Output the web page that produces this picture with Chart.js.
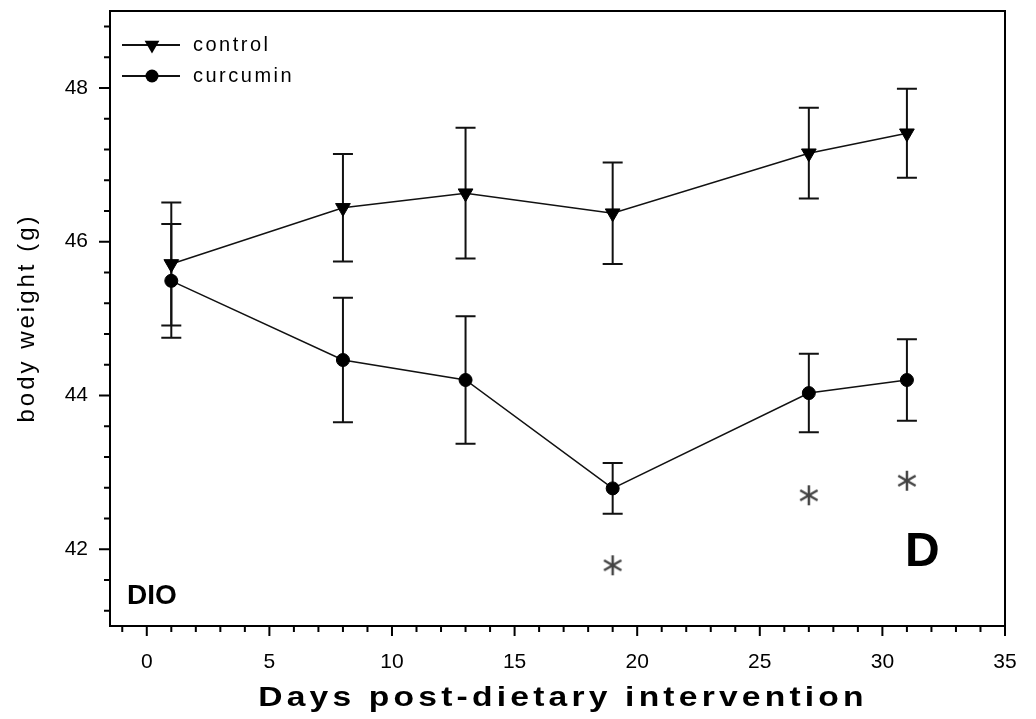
<!DOCTYPE html>
<html>
<head>
<meta charset="utf-8">
<script src="https://cdn.jsdelivr.net/npm/chart.js@4"></script>
<style>
  body { margin: 0; background: #fff; }
  canvas { display: block; }
</style>
</head>
<body>
<canvas id="myChart" width="1036" height="719"></canvas>
<script>
const days = [1, 8, 13, 19, 27, 31];
const controlMean = [45.71, 46.44, 46.63, 46.37, 47.15, 47.41];
const controlErr = [0.80, 0.70, 0.85, 0.66, 0.59, 0.58];
const curcuminMean = [45.49, 44.46, 44.20, 42.79, 44.03, 44.20];
const curcuminErr = [0.74, 0.81, 0.83, 0.33, 0.51, 0.53];
const starDays = [19, 27, 31];
const starY = [41.79, 42.70, 42.89];
const xTickLabels = [0, 5, 10, 15, 20, 25, 30, 35];
const yTickLabels = [42, 44, 46, 48];

// asterisk marker (6 arms)
const star = document.createElement('canvas');
star.width = 26; star.height = 26;
(function () {
    const c = star.getContext('2d');
    c.strokeStyle = '#444';
    c.lineWidth = 2.5;
    [90, 30, 150].forEach(function (a) {
        const r = a * Math.PI / 180;
        c.beginPath();
        c.moveTo(13 - Math.cos(r) * 10, 13 - Math.sin(r) * 10);
        c.lineTo(13 + Math.cos(r) * 10, 13 + Math.sin(r) * 10);
        c.stroke();
    });
})();

function drawMarker(ctx, style, x, y, r) {
    ctx.fillStyle = '#000';
    ctx.beginPath();
    if (style === 'triangle') {
        ctx.moveTo(x - r * 0.87, y - r * 0.5);
        ctx.lineTo(x + r * 0.87, y - r * 0.5);
        ctx.lineTo(x, y + r);
        ctx.closePath();
    } else {
        ctx.arc(x, y, r, 0, Math.PI * 2);
    }
    ctx.fill();
}

const errorBars = {
    id: 'errorBars',
    beforeDatasetsDraw(chart) {
        const ctx = chart.ctx;
        const xs = chart.scales.x, ys = chart.scales.y;
        ctx.save();
        ctx.strokeStyle = '#111';
        ctx.lineWidth = 2;
        chart.data.datasets.forEach(function (ds) {
            if (!ds.errors) return;
            ds.data.forEach(function (p, i) {
                const x = xs.getPixelForValue(p.x);
                const top = ys.getPixelForValue(p.y + ds.errors[i]);
                const bot = ys.getPixelForValue(p.y - ds.errors[i]);
                ctx.beginPath();
                ctx.moveTo(x, top); ctx.lineTo(x, bot);
                ctx.moveTo(x - 10, top); ctx.lineTo(x + 10, top);
                ctx.moveTo(x - 10, bot); ctx.lineTo(x + 10, bot);
                ctx.stroke();
            });
        });
        ctx.restore();
    }
};

const frameAndText = {
    id: 'frameAndText',
    afterDraw(chart) {
        const ctx = chart.ctx;
        const a = chart.chartArea;
        const xs = chart.scales.x, ys = chart.scales.y;
        ctx.save();
        ctx.strokeStyle = '#000';
        ctx.lineWidth = 2;
        ctx.strokeRect(a.left, a.top, a.right - a.left, a.bottom - a.top);

        // x ticks
        ctx.beginPath();
        for (let v = -1; v <= 35; v++) {
            const x = xs.getPixelForValue(v);
            ctx.moveTo(x, a.bottom);
            ctx.lineTo(x, a.bottom + (v % 5 === 0 ? 10 : 6));
        }
        // y ticks
        for (let k = 0; k < 20; k++) {
            const v = 41.2 + 0.4 * k;
            const y = ys.getPixelForValue(v);
            const major = Math.abs(v - Math.round(v)) < 1e-6 && Math.round(v) % 2 === 0;
            ctx.moveTo(a.left, y);
            ctx.lineTo(a.left - (major ? 11 : 6), y);
        }
        ctx.stroke();

        // legend
        ctx.font = '20px "Liberation Sans", Arial, sans-serif';
        ctx.letterSpacing = '2.5px';
        ctx.textBaseline = 'middle';
        ctx.textAlign = 'left';
        let ly = 45;
        chart.data.datasets.forEach(function (ds) {
            if (!ds.inLegend) return;
            ctx.strokeStyle = '#111';
            ctx.lineWidth = 2;
            ctx.beginPath();
            ctx.moveTo(122, ly); ctx.lineTo(180, ly);
            ctx.stroke();
            drawMarker(ctx, ds.pointStyle, 152, ly, ds.pointStyle === 'triangle' ? 8.5 : 6.5);
            ctx.fillStyle = '#000';
            ctx.fillText(ds.label, 193, ly);
            ly += 31;
        });

        // panel labels
        ctx.letterSpacing = '0px';
        ctx.textBaseline = 'alphabetic';
        ctx.font = 'bold 28px "Liberation Sans", Arial, sans-serif';
        ctx.fillText('DIO', 127, 604);
        ctx.font = 'bold 48px "Liberation Sans", Arial, sans-serif';
        ctx.fillText('D', 905, 566);

        // axis titles
        ctx.textAlign = 'center';
        ctx.save();
        ctx.font = 'bold 28px "Liberation Sans", Arial, sans-serif';
        ctx.letterSpacing = '3.5px';
        ctx.translate(563, 706);
        ctx.scale(1.2, 1);
        ctx.fillText('Days post-dietary intervention', 0, 0);
        ctx.restore();

        ctx.font = '24px "Liberation Sans", Arial, sans-serif';
        ctx.letterSpacing = '3px';
        ctx.translate(34, 318);
        ctx.rotate(-Math.PI / 2);
        ctx.fillText('body weight (g)', 0, 0);
        ctx.restore();
    }
};

const data = {
    datasets: [{
        label: 'control',
        inLegend: true,
        data: days.map((d, i) => ({ x: d, y: controlMean[i] })),
        errors: controlErr,
        borderColor: '#111',
        borderWidth: 1.5,
        pointStyle: 'triangle',
        pointRotation: 180,
        pointRadius: 8.5,
        pointBackgroundColor: '#000',
        pointBorderColor: '#000',
        pointBorderWidth: 1
    }, {
        label: 'curcumin',
        inLegend: true,
        data: days.map((d, i) => ({ x: d, y: curcuminMean[i] })),
        errors: curcuminErr,
        borderColor: '#111',
        borderWidth: 1.5,
        pointStyle: 'circle',
        pointRadius: 6.5,
        pointBackgroundColor: '#000',
        pointBorderColor: '#000',
        pointBorderWidth: 1
    }, {
        label: 'significance',
        data: starDays.map((d, i) => ({ x: d, y: starY[i] })),
        showLine: false,
        pointStyle: star,
        pointRadius: 10
    }]
};

const config = {
    type: 'line',
    data: data,
    options: {
        responsive: false,
        animation: false,
        layout: { padding: { top: 9, right: 31, left: 0, bottom: 0 } },
        plugins: {
            legend: { display: false },
            tooltip: { enabled: false }
        },
        scales: {
            x: {
                type: 'linear',
                min: -1.5,
                max: 35,
                afterBuildTicks: s => { s.ticks = xTickLabels.map(v => ({ value: v })); },
                afterFit: s => { s.height = 93; s.paddingLeft = 0; s.paddingRight = 0; },
                grid: { drawOnChartArea: false, drawTicks: false },
                border: { display: false },
                ticks: {
                    padding: 24,
                    color: '#000',
                    maxRotation: 0,
                    font: { family: '"Liberation Sans", Arial, sans-serif', size: 21 }
                }
            },
            y: {
                min: 41,
                max: 49,
                afterBuildTicks: s => { s.ticks = yTickLabels.map(v => ({ value: v })); },
                afterFit: s => { s.width = 110; s.paddingTop = 0; s.paddingBottom = 0; },
                grid: { drawOnChartArea: false, drawTicks: false },
                border: { display: false },
                ticks: {
                    padding: 22,
                    color: '#000',
                    font: { family: '"Liberation Sans", Arial, sans-serif', size: 21 }
                }
            }
        }
    },
    plugins: [errorBars, frameAndText]
};

const myChart = new Chart(document.getElementById('myChart'), config);
</script>
</body>
</html>
